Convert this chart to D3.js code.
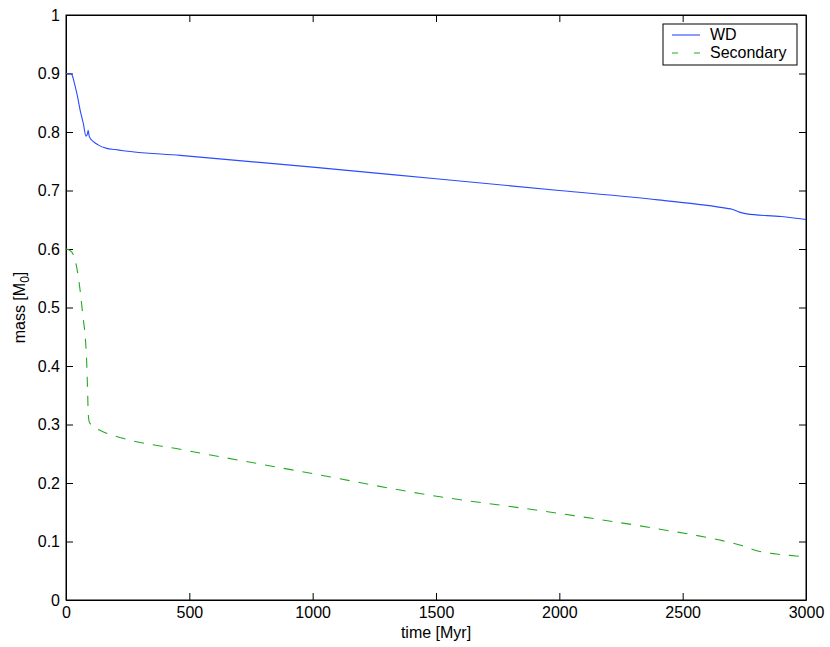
<!DOCTYPE html>
<html>
<head>
<meta charset="utf-8">
<script src="https://cdn.jsdelivr.net/npm/d3@7"></script>
<style>
  body { margin: 0; background: #fff; }
  text { font-family: "Liberation Sans", Arial, Helvetica, sans-serif; }
</style>
</head>
<body>
<div id="chart"></div>
<script>
// data
var wdTime = [0, 20, 25, 36, 47, 57, 70, 81, 87, 90, 94, 97, 110, 130, 165, 200, 232, 463, 1000, 1500, 2000, 2400, 2680, 2700, 2730, 2760, 2900, 3000];
var wdMass = [0.9, 0.9, 0.897, 0.88, 0.86, 0.838, 0.815, 0.793, 0.797, 0.803, 0.793, 0.790, 0.784, 0.778, 0.772, 0.770, 0.768, 0.760, 0.740, 0.720, 0.700, 0.684, 0.6695, 0.668, 0.663, 0.660, 0.6555, 0.6505];

var secTime = [0, 15, 30, 45, 57, 70, 78, 84, 88, 90, 94, 104, 138, 231, 463, 1000, 1435, 2000, 2408, 2660, 2740, 2800, 2880, 2960, 3000];
var secMass = [0.6, 0.598, 0.59, 0.565, 0.53, 0.48, 0.45, 0.405, 0.35, 0.32, 0.305, 0.299, 0.29, 0.2765, 0.2576, 0.216, 0.182, 0.148, 0.121, 0.1015, 0.093, 0.0843, 0.0786, 0.0752, 0.0735];

var xTicks = [0, 500, 1000, 1500, 2000, 2500, 3000];
var yTicks = [0, 0.1, 0.2, 0.3, 0.4, 0.5, 0.6, 0.7, 0.8, 0.9, 1];
var seriesNames = ["WD", "Secondary"];

var margin = {top: 15, right: 24, bottom: 47, left: 66},
    width = 830 - margin.left - margin.right,
    height = 647 - margin.top - margin.bottom;

var svg = d3.select("#chart")
  .append("svg")
  .attr("width", 830)
  .attr("height", 647)
  .append("g")
  .attr("transform", "translate(" + margin.left + "," + margin.top + ")");

var x = d3.scaleLinear().domain([0, 3000]).range([0, width]);
var y = d3.scaleLinear().domain([0, 1]).range([height, 0]);

// axes, matlab style: ticks inside on all four sides
var tickLen = 7;
svg.append("g")
  .attr("transform", "translate(0," + height + ")")
  .call(d3.axisBottom(x).tickValues(xTicks).tickFormat(d3.format("d")).tickSizeInner(-tickLen).tickSizeOuter(0).tickPadding(7));
svg.append("g")
  .call(d3.axisLeft(y).tickValues(yTicks).tickFormat(d3.format("")).tickSizeInner(-tickLen).tickSizeOuter(0).tickPadding(6));
svg.append("g")
  .call(d3.axisTop(x).tickValues(xTicks).tickSizeInner(-tickLen).tickSizeOuter(0).tickFormat(""));
svg.append("g")
  .attr("transform", "translate(" + width + ",0)")
  .call(d3.axisRight(y).tickValues(yTicks).tickSizeInner(-tickLen).tickSizeOuter(0).tickFormat(""));

svg.selectAll(".domain").attr("stroke", "#000").attr("stroke-width", 1);
svg.selectAll(".tick line").attr("stroke", "#000");
svg.selectAll(".tick text")
  .style("font-size", "16px")
  .attr("fill", "#000");

svg.append("rect")
  .attr("width", width)
  .attr("height", height)
  .attr("fill", "none")
  .attr("stroke", "#000");

// axis labels
svg.append("text")
  .attr("x", width / 2)
  .attr("y", height + 38)
  .attr("text-anchor", "middle")
  .style("font-size", "16px")
  .text("time [Myr]");

var yl = svg.append("text")
  .attr("transform", "translate(-41," + (height / 2) + ") rotate(-90)")
  .attr("text-anchor", "middle")
  .style("font-size", "16px");
yl.append("tspan").text("mass [M");
yl.append("tspan").attr("dy", 4).style("font-size", "12px").text("0");
yl.append("tspan").attr("dy", -4).text("]");

// lines
var line = d3.line()
  .x(function(d) { return x(d[0]); })
  .y(function(d) { return y(d[1]); })
  .curve(d3.curveMonotoneX);

var wdData = wdTime.map(function(t, i) { return [t, wdMass[i]]; });
var secData = secTime.map(function(t, i) { return [t, secMass[i]]; });

var colors = ["#2a4bff", "#22aa22"];

svg.append("path")
  .datum(wdData)
  .attr("fill", "none")
  .attr("stroke", colors[0])
  .attr("stroke-width", 1.1)
  .attr("d", line);

svg.append("path")
  .datum(secData)
  .attr("fill", "none")
  .attr("stroke", colors[1])
  .attr("stroke-width", 1.1)
  .attr("stroke-dasharray", "10,9")
  .attr("d", line);

// legend
var lg = svg.append("g").attr("transform", "translate(" + (width - 143) + ",9)");
lg.append("rect")
  .attr("width", 134)
  .attr("height", 41)
  .attr("fill", "#fff")
  .attr("stroke", "#000");
seriesNames.forEach(function(name, i) {
  var yy = 11 + i * 18;
  lg.append("line")
    .attr("x1", 9).attr("x2", 37)
    .attr("y1", yy).attr("y2", yy)
    .attr("stroke", colors[i])
    .attr("stroke-width", 1.1)
    .attr("stroke-dasharray", i === 1 ? "6,16" : null);
  lg.append("text")
    .attr("x", 47)
    .attr("y", yy + 5)
    .style("font-size", "16px")
    .text(name);
});
</script>
</body>
</html>
